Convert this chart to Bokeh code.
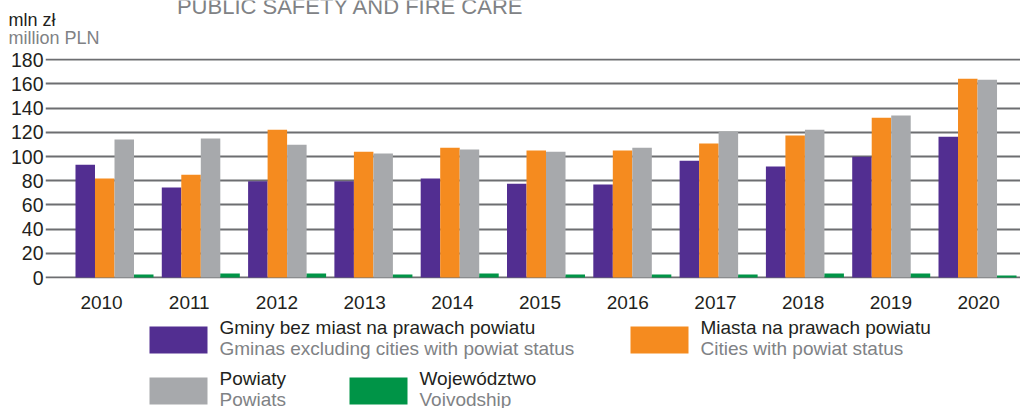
from bokeh.plotting import figure
from bokeh.models import Range1d, LinearAxis, FixedTicker, ColumnDataSource
from bokeh.layouts import column
from bokeh.core.properties import value
from bokeh.embed import file_html
from bokeh.resources import INLINE

# ---------------- data ----------------
years = ["2010", "2011", "2012", "2013", "2014", "2015", "2016", "2017", "2018", "2019", "2020"]
gminy = [93.3, 74.3, 79.5, 79.5, 81.8, 77.6, 76.8, 96.6, 91.7, 99.9, 116.4]
miasta = [81.8, 85.0, 122.2, 104.0, 107.3, 104.9, 104.9, 110.7, 117.3, 132.1, 164.3]
powiaty = [114.0, 114.8, 109.8, 102.4, 105.7, 104.0, 107.3, 120.6, 122.2, 133.8, 163.5]
wojewodztwo = [2.5, 3.3, 3.3, 2.5, 3.3, 2.5, 2.5, 2.5, 3.3, 3.3, 1.6]
y_ticks = [0, 20, 40, 60, 80, 100, 120, 140, 160, 180]

series_pl = ["Gminy bez miast na prawach powiatu", "Miasta na prawach powiatu", "Powiaty", "Województwo"]
series_en = ["Gminas excluding cities with powiat status", "Cities with powiat status", "Powiats", "Voivodship"]
colors = ["#522e91", "#f58b1f", "#a7a9ac", "#009447"]

title_text = "PUBLIC SAFETY AND FIRE CARE"
unit_pl = "mln zł"
unit_en = "million PLN"

FONT = "Liberation Sans"
DARK = "#231f20"
GREY_TXT = "#808285"
W = 1020

# ---------------- header ----------------
head = figure(width=W, height=50, x_range=Range1d(0, W), y_range=Range1d(50, 0),
              output_backend="svg", toolbar_location=None,
              x_axis_location=None, y_axis_location=None, frame_align=False,
              min_border=0, min_border_left=0, min_border_right=0,
              min_border_top=0, min_border_bottom=0, outline_line_color=None)
head.grid.visible = False
head.text(x=[350], y=[6], text=[title_text], text_font=value(FONT), text_font_size="22px",
          text_color=GREY_TXT, text_align="center", text_baseline="alphabetic")
head.text(x=[8], y=[19], text=[unit_pl], text_font=value(FONT), text_font_size="18px",
          text_color=DARK, text_align="left", text_baseline="alphabetic")
head.text(x=[8], y=[37], text=[unit_en], text_font=value(FONT), text_font_size="18px",
          text_color=GREY_TXT, text_align="left", text_baseline="alphabetic")

# ---------------- chart ----------------
n = len(years)
idx = list(range(n))
p = figure(width=W, height=262, x_range=Range1d(-0.7995, 10.498), y_range=Range1d(-0.8, 181),
           output_backend="svg", toolbar_location=None, x_axis_location=None, frame_align=False,
           min_border_left=45, min_border_right=0, min_border_top=8, min_border_bottom=34,
           outline_line_color=None)
p.extra_x_ranges = {"labels": Range1d(-0.639, 10.478)}

bw = 0.226
offs = [-1.5 * bw, -0.5 * bw, 0.5 * bw, 1.5 * bw]
for vals, off, col in zip([gminy, miasta, powiaty, wojewodztwo], offs, colors):
    src = ColumnDataSource(dict(x=[i + off for i in idx], top=vals))
    p.vbar(x="x", top="top", bottom=0, width=bw, source=src, fill_color=col, line_color=None)

p.xgrid.visible = False
p.ygrid.ticker = FixedTicker(ticks=y_ticks)
p.ygrid.grid_line_color = "#6d6e71"
p.ygrid.grid_line_width = 2
p.ygrid.level = "underlay"

yax = p.yaxis[0]
yax.ticker = FixedTicker(ticks=y_ticks)
yax.axis_line_color = None
yax.major_tick_line_color = None
yax.minor_tick_line_color = None
yax.major_label_standoff = -4
yax.major_label_text_font = FONT
yax.major_label_text_font_size = "19.5px"
yax.major_label_text_color = DARK

xax = LinearAxis(x_range_name="labels", ticker=FixedTicker(ticks=idx),
                 major_label_overrides={i: y for i, y in enumerate(years)})
xax.axis_line_color = None
xax.major_tick_line_color = None
xax.minor_tick_line_color = None
xax.major_label_standoff = 11
xax.major_label_text_font = FONT
xax.major_label_text_font_size = "19px"
xax.major_label_text_color = DARK
p.add_layout(xax, "below")

# ---------------- legend ----------------
leg = figure(width=W, height=96, x_range=Range1d(0, W), y_range=Range1d(96, 0),
             output_backend="svg", toolbar_location=None,
             x_axis_location=None, y_axis_location=None, frame_align=False,
             min_border=0, min_border_left=0, min_border_right=0,
             min_border_top=0, min_border_bottom=0, outline_line_color=None)
leg.grid.visible = False
sw_x = [149, 630, 149, 349]
sw_y = [14, 14, 65, 65]
leg.quad(left=sw_x, right=[x + 58 for x in sw_x], top=sw_y, bottom=[y + 27 for y in sw_y],
         fill_color=colors, line_color=None)
tx = [x + 70 for x in sw_x]
leg.text(x=tx, y=[y + 1 for y in sw_y], text=series_pl, text_font=value(FONT),
         text_font_size="19px", text_color=DARK, text_baseline="alphabetic")
leg.text(x=tx, y=[y + 22 for y in sw_y], text=series_en, text_font=value(FONT),
         text_font_size="19px", text_color=GREY_TXT, text_baseline="alphabetic")

layout = column(head, p, leg, spacing=0)
open("out.html", "w").write(file_html(layout, INLINE))
